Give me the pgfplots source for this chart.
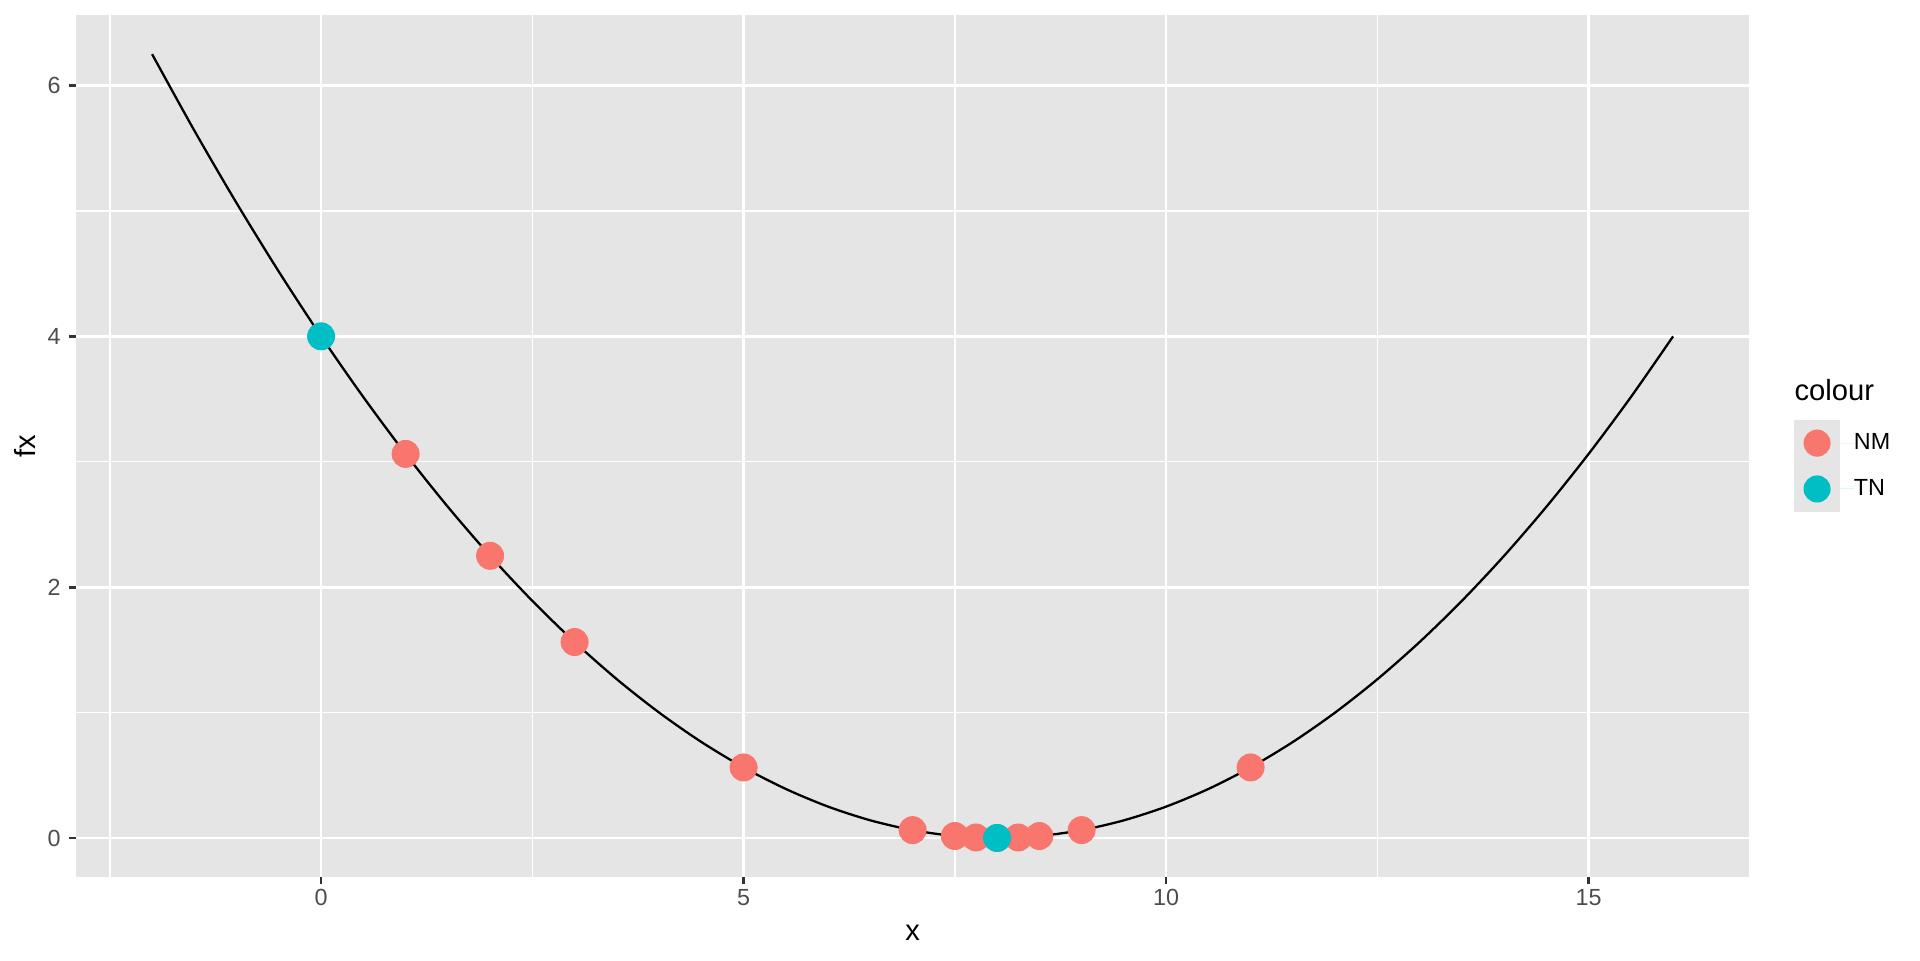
\documentclass[border=0pt]{standalone}
\usepackage{pgfplots}
\pgfplotsset{compat=1.18}
\usepackage{fontspec}
\setmainfont{Liberation Sans}
\definecolor{panelbg}{HTML}{E5E5E5}
\definecolor{nmred}{HTML}{F8766D}
\definecolor{tnteal}{HTML}{00BFC4}
\definecolor{grey20}{HTML}{333333}
\definecolor{grey30}{HTML}{4D4D4D}
\begin{document}
\begin{tikzpicture}
\begin{axis}[
  scale only axis,
  width=803pt, height=413.8pt,
  xmin=-2.9, xmax=16.9,
  ymin=-0.3125, ymax=6.5625,
  xtick={0,5,10,15},
  ytick={0,2,4,6},
  minor xtick={-2.5,2.5,7.5,12.5},
  minor ytick={1,3,5},
  xtick pos=lower, ytick pos=left,
  grid=both,
  major grid style={white, line width=1.3pt},
  minor grid style={white, line width=0.65pt},
  axis background/.style={fill=panelbg},
  axis line style={draw=none},
  tick align=outside,
  major tick length=3.5pt,
  minor tick length=0pt,
  major tick style={grey20, line width=1.3pt},
  tick label style={font=\fontsize{11.2}{13}\selectfont, text=grey30, inner sep=0pt},
  /pgf/number format/assume math mode=true,
  xticklabel style={yshift=-2.3pt},
  yticklabel style={xshift=-3.7pt},
  xlabel={x}, ylabel={fx},
  label style={font=\fontsize{14}{16}\selectfont},
  xlabel style={at={(axis description cs:0.5,0)}, anchor=base, yshift=-30.2pt, inner sep=0pt},
  ylabel style={at={(axis description cs:0,0.5)}, anchor=center, yshift=24.5pt, inner sep=0pt},
  legend style={at={(rel axis cs:1.0269,0.530)}, anchor=north west, draw=none, fill=none,
    inner sep=0pt, outer sep=0pt, row sep=0pt, column sep=0pt,
    font=\fontsize{11.2}{13}\selectfont,
    nodes={inner sep=0pt, outer sep=0pt}},
  legend cell align=left,
  legend image code/.code={
    \fill[panelbg] (0pt,-11pt) rectangle (22pt,11pt);
    \fill (11pt,0pt) circle (6.5pt);
    \path (22pt,0pt) -- (28.7pt,0pt);
  },
  clip=false,
]
\addplot[black, line width=1.1pt, smooth, forget plot] coordinates {
(-2,6.25) (-1.5,5.640625) (-1,5.0625) (-0.5,4.515625) (0,4) (0.5,3.515625)
(1,3.0625) (1.5,2.640625) (2,2.25) (2.5,1.890625) (3,1.5625) (3.5,1.265625)
(4,1) (4.5,0.765625) (5,0.5625) (5.5,0.390625) (6,0.25) (6.5,0.140625)
(7,0.0625) (7.5,0.015625) (8,0) (8.5,0.015625) (9,0.0625) (9.5,0.140625)
(10,0.25) (10.5,0.390625) (11,0.5625) (11.5,0.765625) (12,1) (12.5,1.265625)
(13,1.5625) (13.5,1.890625) (14,2.25) (14.5,2.640625) (15,3.0625) (15.5,3.515625)
(16,4)
};
\addplot[only marks, mark=*, mark size=6.5pt, draw=none, fill=nmred, color=nmred,
  mark options={draw=none, fill=nmred}] coordinates {
(1,3.0625) (2,2.25) (3,1.5625) (5,0.5625) (7,0.0625) (7.5,0.015625)
(7.75,0.00390625) (8,0) (8.25,0.00390625) (8.5,0.015625) (9,0.0625) (11,0.5625)
};
\addlegendentry{NM}
\addplot[only marks, mark=*, mark size=6.5pt, draw=none, fill=tnteal, color=tnteal,
  mark options={draw=none, fill=tnteal}] coordinates {
(0,4) (8,0)
};
\addlegendentry{TN}
\node[anchor=base west, inner sep=0pt, font=\fontsize{14}{16}\selectfont]
  at (rel axis cs:1.0269,0.5526) {colour};
\path (rel axis cs:0,0) ++(-36.5pt,-39.8pt) coordinate (bbsw);
\path (rel axis cs:1,1) ++(82pt,7.2pt) coordinate (bbne);
\useasboundingbox (bbsw) rectangle (bbne);
\end{axis}
\end{tikzpicture}
\end{document}
